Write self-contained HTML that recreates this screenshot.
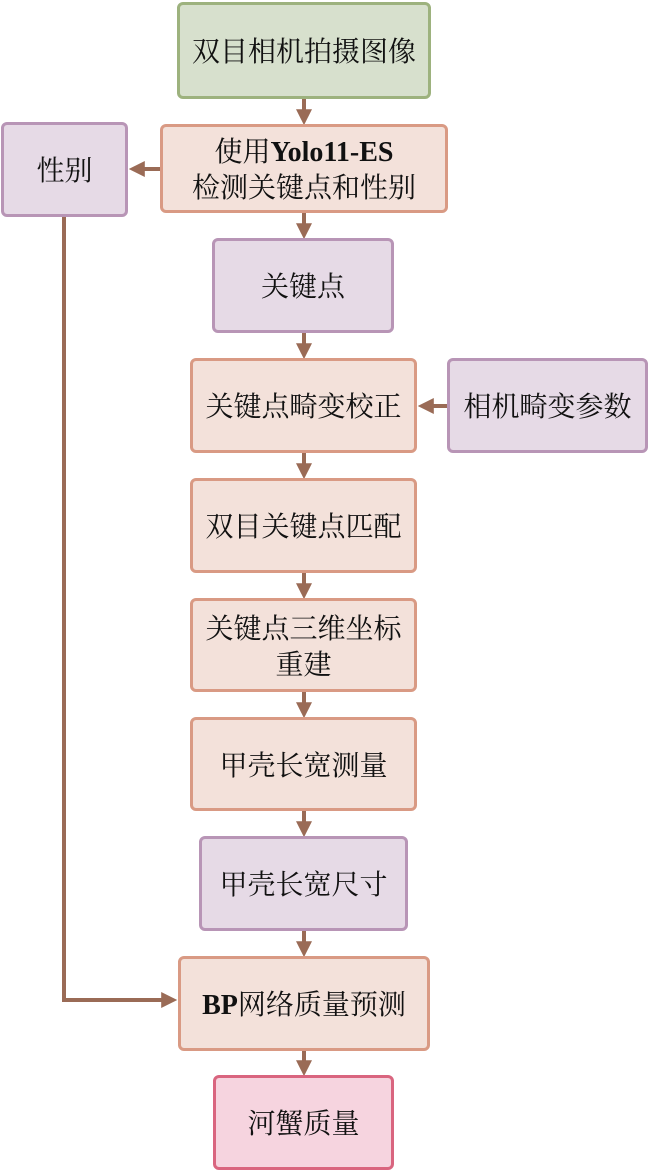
<!DOCTYPE html>
<html><head><meta charset="utf-8"><style>
body{margin:0;width:650px;height:1172px;background:#fff;position:relative;overflow:hidden;font-family:"Liberation Serif","Noto Serif CJK SC",serif;}
.b{position:absolute;box-sizing:border-box;border:3px solid;border-radius:6px;display:flex;align-items:center;justify-content:center;text-align:center;font-size:28px;line-height:36px;color:#111;padding-top:5px;}
.g{background:#d7e0cd;border-color:#9db27e;}
.s{background:#f3e1da;border-color:#d99a84;}
.p{background:#e6dae6;border-color:#b895b6;}
.k{background:#f6d4df;border-color:#d9657f;}
b{font-weight:bold}
svg{position:absolute;left:0;top:0}
</style></head><body>
<svg width="650" height="1172">
<defs><marker id="a" markerWidth="4" markerHeight="4" refX="2.2" refY="2" orient="auto" markerUnits="strokeWidth"><path d="M0,0 L4,2 L0,4z" fill="#9a6b56"/></marker></defs>
<g stroke="#9a6b56" stroke-width="4" fill="none">
<line x1="304" y1="99" x2="304" y2="118" marker-end="url(#a)"/>
<line x1="304" y1="213" x2="304" y2="232" marker-end="url(#a)"/>
<line x1="304" y1="333" x2="304" y2="352" marker-end="url(#a)"/>
<line x1="304" y1="453" x2="304" y2="472" marker-end="url(#a)"/>
<line x1="304" y1="573" x2="304" y2="592" marker-end="url(#a)"/>
<line x1="304" y1="692" x2="304" y2="711" marker-end="url(#a)"/>
<line x1="304" y1="811" x2="304" y2="830" marker-end="url(#a)"/>
<line x1="304" y1="931" x2="304" y2="950" marker-end="url(#a)"/>
<line x1="304" y1="1051" x2="304" y2="1069" marker-end="url(#a)"/>
<line x1="160" y1="169" x2="136" y2="169" marker-end="url(#a)"/>
<line x1="447" y1="406" x2="425" y2="406" marker-end="url(#a)"/>
<polyline points="64,217 64,1000 170,1000" marker-end="url(#a)"/>
</g></svg>
<div class="b g" style="left:177px;top:2px;width:254px;height:97px"><span>双目相机拍摄图像</span></div>
<div class="b s" style="left:160px;top:124px;width:288px;height:89px"><span>使用<b>Yolo11-ES</b><br>检测关键点和性别</span></div>
<div class="b p" style="left:1px;top:122px;width:127px;height:95px"><span>性别</span></div>
<div class="b p" style="left:212px;top:238px;width:182px;height:95px"><span>关键点</span></div>
<div class="b s" style="left:190px;top:358px;width:227px;height:95px"><span>关键点畸变校正</span></div>
<div class="b p" style="left:447px;top:358px;width:201px;height:95px"><span>相机畸变参数</span></div>
<div class="b s" style="left:190px;top:478px;width:227px;height:95px"><span>双目关键点匹配</span></div>
<div class="b s" style="left:190px;top:598px;width:227px;height:94px"><span>关键点三维坐标<br>重建</span></div>
<div class="b s" style="left:190px;top:717px;width:227px;height:94px"><span>甲壳长宽测量</span></div>
<div class="b p" style="left:199px;top:836px;width:209px;height:95px"><span>甲壳长宽尺寸</span></div>
<div class="b s" style="left:178px;top:956px;width:252px;height:95px"><span><b>BP</b>网络质量预测</span></div>
<div class="b k" style="left:213px;top:1075px;width:181px;height:95px"><span>河蟹质量</span></div>
</body></html>
